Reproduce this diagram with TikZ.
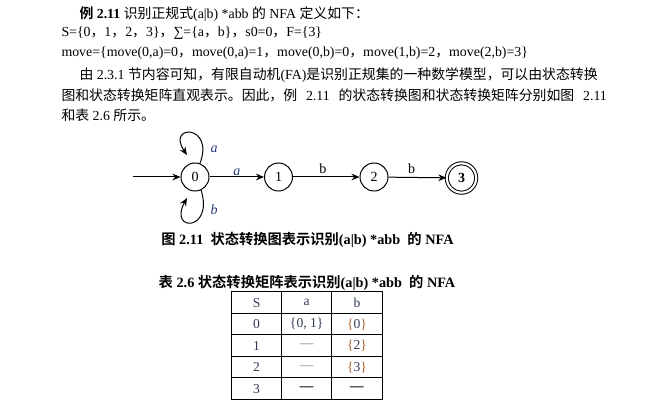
\documentclass[tikz,border=0pt]{standalone}
\usepackage{fontspec}
\setmainfont{Liberation Serif}
\newfontfamily\cjk{Noto Sans CJK SC}[BoldFont={Noto Sans CJK SC Bold}]
\usetikzlibrary{arrows.meta}
\definecolor{lblblue}{RGB}{35,55,125}
\definecolor{cellgray}{RGB}{50,60,85}
\definecolor{bracebrown}{RGB}{175,95,45}
\newcommand\zh[1]{{\cjk #1}}
\tikzset{every picture/.style={line width=0.75pt}}
\tikzset{
  txt/.style={anchor=west,inner sep=0.75pt,font=\fontsize{10.4}{12}\selectfont},
  captxt/.style={inner sep=0.75pt,font=\fontsize{10.7}{12}\selectfont\bfseries},
  state/.style={draw,circle,minimum size=21pt,inner sep=0pt,font=\fontsize{10.5}{12}\selectfont},
  accept/.style={state,double,double distance=1.6pt,minimum size=22pt,font=\fontsize{10.5}{12}\selectfont\bfseries},
  trans/.style={-{Stealth[length=6pt,width=5pt]}},
  lbl/.style={inner sep=0.75pt,font=\fontsize{10.5}{12}\selectfont},
  cell/.style={inner sep=0.75pt,text=cellgray,font=\fontsize{10.2}{12}\selectfont}
}

\begin{document}
\begin{tikzpicture}[x=0.75pt,y=0.75pt,yscale=-1,xscale=1]
\useasboundingbox (0,0) rectangle (661,413);
% Text Node
\node [txt] (line1) at (78,14) {\textbf{\zh{例} 2.11} \zh{识别正规式}(a|b) *abb \zh{的} NFA \zh{定义如下：}};
% Text Node
\node [txt] (line2) at (60,33) {S=\{0\zh{，}1\zh{，}2\zh{，}3\}\zh{，}∑=\{a\zh{，}b\}\zh{，}s0=0\zh{，}F=\{3\}};
% Text Node
\node [txt] (line3) at (60,53) {move=\{move(0,a)=0\zh{，}move(0,a)=1\zh{，}move(0,b)=0\zh{，}move(1,b)=2\zh{，}move(2,b)=3\}};
% Text Node
\node [txt] (line4) at (78,75) {\zh{由} 2.3.1 \zh{节内容可知，有限自动机}(FA)\zh{是识别正规集的一种数学模型，可以由状态转换}};
% Text Node
\node [txt] (line5) at (60,95) {\zh{图和状态转换矩阵直观表示。因此，例}\hspace{4pt} 2.11\hspace{4pt} \zh{的状态转换图和状态转换矩阵分别如图}\hspace{4pt} 2.11};
% Text Node
\node [txt] (line6) at (60,115) {\zh{和表} 2.6 \zh{所示。}};

%States
\node [state] (q0) at (195,177) {0};
\node [state] (q1) at (278.5,177) {1};
\node [state] (q2) at (374,177) {2};
\node [accept] (q3) at (461.5,178) {3};
\coordinate (start) at (133,177);
\coordinate (loopa) at (187,155);
\coordinate (loopb) at (187,198);

%Transitions
\draw [trans] (start) -- (q0);
\draw [trans] (q0) -- node [lbl,above,text=lblblue] {\textit{a}} (q1);
\draw [trans] (q1) -- node [lbl,above=1.5pt,pos=0.45] {b} (q2);
\draw [trans] (q2) -- node [lbl,above=1.5pt,pos=0.4] {b} (q3);
\draw [trans] (q0.70) .. controls (215,124) and (166,124) .. (loopa);
\draw [trans] (q0.-65) .. controls (214,232) and (168,232) .. (loopb);
\node [lbl,text=lblblue] (la) at (214,149) {\textit{a}};
\node [lbl,text=lblblue] (lb) at (214,210) {\textit{b}};

% Caption
\node [captxt] (figcap) at (307.5,240) {\zh{图} 2.11\ \ \zh{状态转换图表示识别}(a|b) *abb\ \ \zh{的} NFA};
\node [captxt] (tabcap) at (307,283) {\zh{表} 2.6 \zh{状态转换矩阵表示识别}(a|b) *abb\ \ \zh{的} NFA};

%Table
\draw (231.5,292) rectangle (382.3,399.5);
\foreach \x in {281.7,331.7} {\draw (\x,292) -- (\x,399.5);}
\foreach \y in {313.5,335,356.5,378} {\draw (231.5,\y) -- (382.3,\y);}
\node [cell] (hs) at (256.6,302.75) {S};
\node [cell] (ha) at (306.7,302.75) {a};
\node [cell] (hb) at (357,302.75) {b};
\node [cell] (r0s) at (256.6,324.25) {0};
\node [cell] (r0a) at (306.7,324.25) {\{0, 1\}};
\node [cell] (r0b) at (357,324.25) {\textcolor{bracebrown}{\{}0\textcolor{bracebrown}{\}}};
\node [cell] (r1s) at (256.6,345.75) {1};
\node [cell,text=gray] (r1a) at (306.7,345.75) {—};
\node [cell] (r1b) at (357,345.75) {\textcolor{bracebrown}{\{}2\textcolor{bracebrown}{\}}};
\node [cell] (r2s) at (256.6,367.25) {2};
\node [cell,text=gray] (r2a) at (306.7,367.25) {—};
\node [cell] (r2b) at (357,367.25) {\textcolor{bracebrown}{\{}3\textcolor{bracebrown}{\}}};
\node [cell] (r3s) at (256.6,388.75) {3};
\node [cell,text=black] (r3a) at (306.7,388.75) {\textbf{—}};
\node [cell,text=black] (r3b) at (357,388.75) {\textbf{—}};
\end{tikzpicture}
\end{document}
